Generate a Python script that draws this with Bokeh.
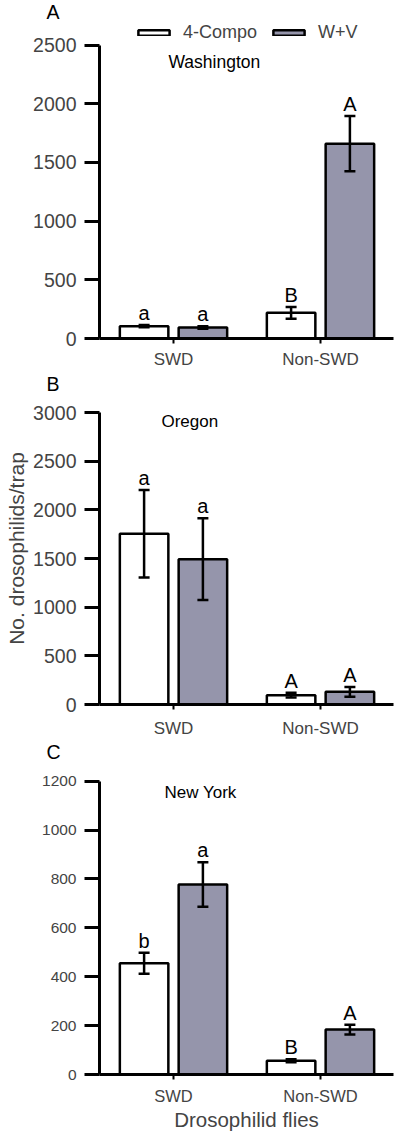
from bokeh.plotting import figure
from bokeh.models import (ColumnDataSource, FixedTicker, Range1d, Whisker, TeeHead,
                          Label, Legend, LegendItem, Title)
from bokeh.transform import dodge
from bokeh.layouts import column
from bokeh.embed import file_html
from bokeh.resources import INLINE
from bokeh.core.properties import value

# ---------------- data ----------------
categories = ["SWD", "Non-SWD"]
series = ["4-Compo", "W+V"]

wa_compo = [105, 219]
wa_compo_err = [10, 50]
wa_wv = [94, 1660]
wa_wv_err = [10, 235]
wa_let_compo = ["a", "B"]
wa_let_wv = ["a", "A"]

or_compo = [1755, 96]
or_compo_err = [450, 25]
or_wv = [1493, 130]
or_wv_err = [420, 50]
or_let_compo = ["a", "A"]
or_let_wv = ["a", "A"]

ny_compo = [455, 56]
ny_compo_err = [43, 6]
ny_wv = [777, 184]
ny_wv_err = [91, 20]
ny_let_compo = ["b", "B"]
ny_let_wv = ["a", "A"]

wa_ticks = [0, 500, 1000, 1500, 2000, 2500]
or_ticks = [0, 500, 1000, 1500, 2000, 2500, 3000]
ny_ticks = [0, 200, 400, 600, 800, 1000, 1200]

FONT = "Liberation Sans"
GRAY = "#9595AB"


def panel(letter, compo, compo_err, wv, wv_err, let_c, let_w, ticks, yend,
          frame_h, border_bottom, tick_font, xlab_font, xstandoff):
    p = figure(frame_width=294, frame_height=frame_h,
               x_range=Range1d(-0.5034, 1.4966), y_range=Range1d(0, yend),
               output_backend="svg", toolbar_location=None,
               min_border_left=99, min_border_right=2, min_border_top=0,
               min_border_bottom=border_bottom)
    p.outline_line_color = None
    p.grid.visible = False
    p.background_fill_color = "white"
    p.add_layout(Title(text=letter, align="left", offset=-53, standoff=-4,
                       text_font=FONT, text_font_size="19.5px",
                       text_font_style="normal", text_color="black"), "above")

    src = ColumnDataSource(dict(
        x=[0, 1],
        compo=compo, compo_lo=[v - e for v, e in zip(compo, compo_err)],
        compo_hi=[v + e for v, e in zip(compo, compo_err)],
        wv=wv, wv_lo=[v - e for v, e in zip(wv, wv_err)],
        wv_hi=[v + e for v, e in zip(wv, wv_err)],
        let_c=let_c, let_w=let_w,
    ))
    xc = dodge("x", -0.2, range=p.x_range)
    xw = dodge("x", 0.2, range=p.x_range)
    r1 = p.vbar(x=xc, top="compo", width=0.33, source=src, fill_color="white",
                line_color="black", line_width=2.5)
    r2 = p.vbar(x=xw, top="wv", width=0.33, source=src, fill_color=GRAY,
                line_color="black", line_width=2.5)
    for base, lo, hi in ((xc, "compo_lo", "compo_hi"), (xw, "wv_lo", "wv_hi")):
        w = Whisker(base=base, lower=lo, upper=hi, source=src, level="annotation",
                    line_color="black", line_width=2.5,
                    upper_head=TeeHead(size=11, line_width=2.5, line_color="black"),
                    lower_head=TeeHead(size=11, line_width=2.5, line_color="black"))
        p.add_layout(w)
    for xx, yy, tt in ((xc, "compo_hi", "let_c"), (xw, "wv_hi", "let_w")):
        p.text(x=xx, y=yy, text=tt, source=src, text_align="center",
               text_baseline="alphabetic", y_offset=-12,
               text_font=value(FONT), text_font_size="20px", text_color="black")

    xa = p.xaxis[0]
    xa.ticker = FixedTicker(ticks=[0, 1])
    xa.major_label_overrides = {0: categories[0], 1: categories[1]}
    xa.major_label_text_font = FONT
    xa.major_label_text_font_size = xlab_font
    xa.major_label_standoff = xstandoff
    xa.major_tick_out = 5
    xa.major_tick_in = 0
    xa.major_tick_line_width = 2
    xa.minor_tick_line_color = None
    xa.axis_line_width = 3

    ya = p.yaxis[0]
    ya.ticker = FixedTicker(ticks=ticks)
    ya.bounds = (0, ticks[-1])
    ya.major_label_text_font = FONT
    ya.major_label_text_font_size = tick_font
    ya.major_label_standoff = 8
    ya.major_tick_out = 15
    ya.major_tick_in = 0
    ya.major_tick_line_width = 3
    ya.minor_tick_line_color = None
    ya.axis_line_width = 3
    return p, r1, r2


def label(p, x, y, text, size):
    p.add_layout(Label(x=x, y=y, text=text, text_font=FONT, text_font_size=size,
                       text_align="left", text_baseline="alphabetic",
                       text_color="black"))


# Panel A: Washington
pA, rA1, rA2 = panel("A", wa_compo, wa_compo_err, wa_wv, wa_wv_err, wa_let_compo,
                     wa_let_wv, wa_ticks, 2709, 318, 34, "19.5px", "17px", 6)
label(pA, -0.034, 2353, "Washington", "17.5px")
legend = Legend(items=[LegendItem(label=series[0], renderers=[rA1]),
                       LegendItem(label=series[1], renderers=[rA2])],
                orientation="horizontal", location=(35, 295),
                glyph_width=39, glyph_height=7, label_standoff=10, spacing=12,
                padding=0, margin=0, border_line_color=None,
                background_fill_alpha=0, label_text_font=FONT,
                label_text_font_size="18px", label_text_line_height=1.0,
                label_height=18)
pA.add_layout(legend)

# Panel B: Oregon
pB, _, _ = panel("B", or_compo, or_compo_err, or_wv, or_wv_err, or_let_compo,
                 or_let_wv, or_ticks, 3206, 312, 36, "19.5px", "17px", 9)
label(pB, -0.082, 2911, "Oregon", "17px")
yb = pB.yaxis[0]
yb.axis_label = "No. drosophilids/trap"
yb.axis_label_text_font = FONT
yb.axis_label_text_font_size = "21px"
yb.axis_label_text_font_style = "normal"
yb.axis_label_standoff = 2

# Panel C: New York
pC, _, _ = panel("C", ny_compo, ny_compo_err, ny_wv, ny_wv_err, ny_let_compo,
                 ny_let_wv, ny_ticks, 1284.5, 314, 57, "15.5px", "16.5px", 7)
label(pC, -0.061, 1152, "New York", "17px")
xc_axis = pC.xaxis[0]
xc_axis.axis_label = "Drosophilid flies"
xc_axis.axis_label_text_font = FONT
xc_axis.axis_label_text_font_size = "20.5px"
xc_axis.axis_label_text_font_style = "normal"
xc_axis.axis_label_standoff = 0

layout = column(pA, pB, pC, spacing=0)
open("out.html", "w").write(file_html(layout, INLINE))
